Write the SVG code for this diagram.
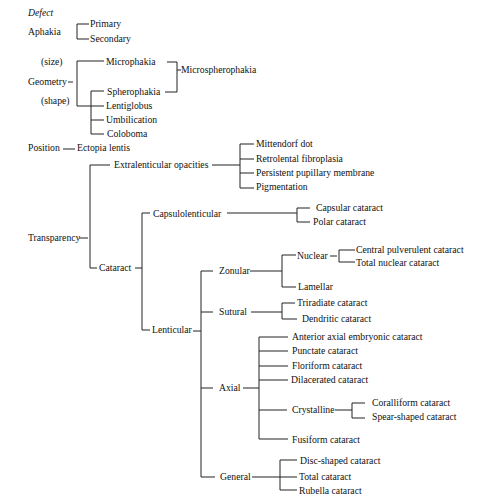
<svg xmlns="http://www.w3.org/2000/svg" width="480" height="500" viewBox="0 0 480 500">
<style>
text{font-family:"Liberation Serif","Times New Roman",serif;font-size:9.7px;fill:#111}
.it{font-style:italic}
#connectors path{fill:none;stroke:#222;stroke-width:1}
</style>
<rect width="480" height="500" fill="#ffffff"/>
<g id="connectors">
<path d="M89,24H77V39H89"/>
<path d="M68,82H73"/>
<path d="M104,61H77V106H104"/>
<path d="M104,91H91V134H104M91,120H104"/>
<path d="M167,62H177V92H165M177,70H181"/>
<path d="M63,149H75"/>
<path d="M79,238H88"/>
<path d="M110,165H90V268H97"/>
<path d="M212,165H240"/>
<path d="M254,144H240V188H254M240,159H254M240,173H254"/>
<path d="M135,268H142"/>
<path d="M150,213H142V330H150"/>
<path d="M227,213H297"/>
<path d="M310,208H297V222H310"/>
<path d="M193,331H201"/>
<path d="M213,271H201V477H215M201,312H213M201,388H213"/>
<path d="M250,271H282"/>
<path d="M296,255H282V287H296"/>
<path d="M330,256H337"/>
<path d="M355,250H339V262H355"/>
<path d="M251,312H282"/>
<path d="M295,303H282V319H297"/>
<path d="M243,388H259"/>
<path d="M288,337H259V439H288M259,351H288M259,366H288M259,380H288M259,410H287"/>
<path d="M335,410H352"/>
<path d="M365,403H352V418H365"/>
<path d="M252,477H297"/>
<path d="M297,460H280V490H297"/>
</g>
<g id="defect"><text class="it" x="28" y="16">Defect</text></g>
<g id="aphakia"><text x="28" y="35">Aphakia</text></g>
<g id="primary"><text x="90" y="27">Primary</text></g>
<g id="secondary"><text x="90" y="42">Secondary</text></g>
<g id="size"><text x="41" y="65">(size)</text></g>
<g id="geometry"><text x="28" y="85">Geometry</text></g>
<g id="shape"><text x="41" y="104">(shape)</text></g>
<g id="microphakia"><text x="106" y="65">Microphakia</text></g>
<g id="spherophakia"><text x="107" y="95">Spherophakia</text></g>
<g id="lentiglobus"><text x="106" y="109">Lentiglobus</text></g>
<g id="umbilication"><text x="106" y="123">Umbilication</text></g>
<g id="coloboma"><text x="107" y="137">Coloboma</text></g>
<g id="microspherophakia"><text x="181" y="73">Microspherophakia</text></g>
<g id="position"><text x="28" y="151">Position</text></g>
<g id="ectopia"><text x="77" y="151">Ectopia lentis</text></g>
<g id="extralenticular"><text x="114" y="168">Extralenticular opacities</text></g>
<g id="mittendorf"><text x="256" y="147">Mittendorf dot</text></g>
<g id="retrolental"><text x="256" y="162">Retrolental fibroplasia</text></g>
<g id="persistent"><text x="256" y="176">Persistent pupillary membrane</text></g>
<g id="pigmentation"><text x="256" y="190">Pigmentation</text></g>
<g id="transparency"><text x="28" y="241">Transparency</text></g>
<g id="capsulolenticular"><text x="153" y="217">Capsulolenticular</text></g>
<g id="capsular"><text x="316" y="211">Capsular cataract</text></g>
<g id="polar"><text x="313" y="225">Polar cataract</text></g>
<g id="cataract"><text x="99" y="271">Cataract</text></g>
<g id="zonular"><text x="219" y="274">Zonular</text></g>
<g id="nuclear"><text x="297" y="259">Nuclear</text></g>
<g id="central"><text x="356" y="253">Central pulverulent cataract</text></g>
<g id="totalnuclear"><text x="356" y="266">Total nuclear cataract</text></g>
<g id="lamellar"><text x="298" y="290">Lamellar</text></g>
<g id="sutural"><text x="219" y="315">Sutural</text></g>
<g id="triradiate"><text x="297" y="306">Triradiate cataract</text></g>
<g id="dendritic"><text x="302" y="322">Dendritic cataract</text></g>
<g id="lenticular"><text x="152" y="333">Lenticular</text></g>
<g id="anterior"><text x="292" y="340">Anterior axial embryonic cataract</text></g>
<g id="punctate"><text x="292" y="354">Punctate cataract</text></g>
<g id="floriform"><text x="292" y="369">Floriform cataract</text></g>
<g id="dilacerated"><text x="291" y="383">Dilacerated cataract</text></g>
<g id="axial"><text x="219" y="391">Axial</text></g>
<g id="crystalline"><text x="292" y="413">Crystalline</text></g>
<g id="coralliform"><text x="372" y="406">Coralliform cataract</text></g>
<g id="spear"><text x="372" y="420">Spear-shaped cataract</text></g>
<g id="fusiform"><text x="292" y="443">Fusiform cataract</text></g>
<g id="general"><text x="220" y="480">General</text></g>
<g id="disc"><text x="300" y="464">Disc-shaped cataract</text></g>
<g id="total"><text x="299" y="480">Total cataract</text></g>
<g id="rubella"><text x="299" y="494">Rubella cataract</text></g>
</svg>
